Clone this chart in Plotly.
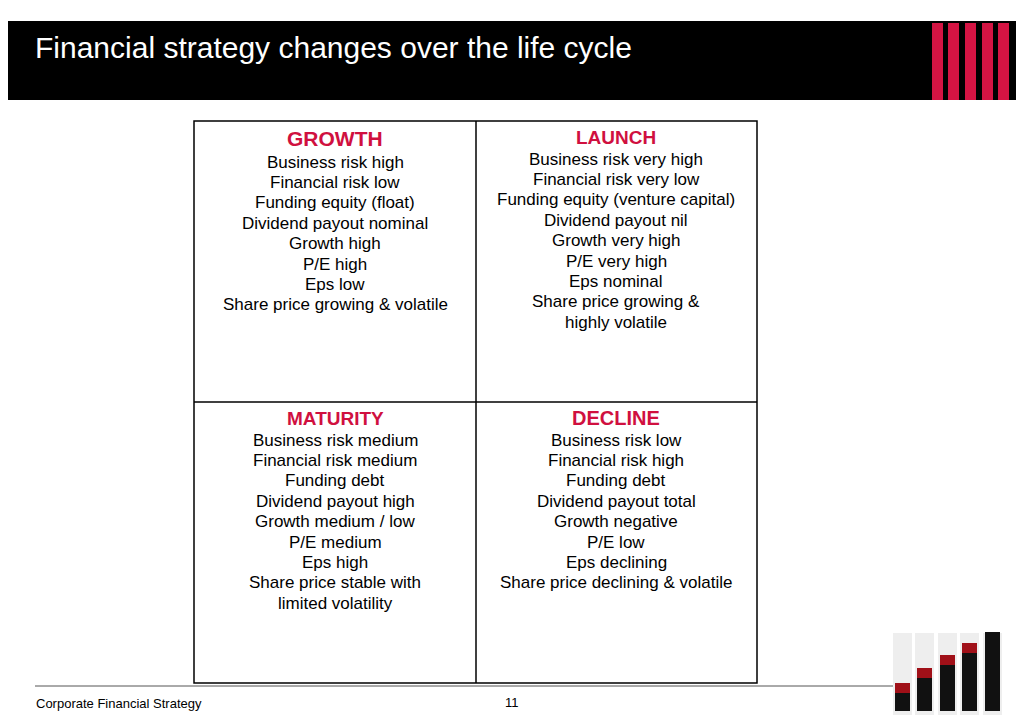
import plotly.graph_objects as go

# the page body has an 8px margin, so the figure is drawn 8px in from the corner
OFF = 8
W, H = 1024 - OFF, 724 - OFF

title = "Financial strategy changes over the life cycle"
footer_left = "Corporate Financial Strategy"
page_no = "11"

# quadrant headings and their lines (top-left, top-right, bottom-left, bottom-right)
headings = ["GROWTH", "LAUNCH", "MATURITY", "DECLINE"]
growth_lines = ["Business risk high", "Financial risk low", "Funding equity (float)",
                "Dividend payout nominal", "Growth high", "P/E high", "Eps low",
                "Share price growing & volatile"]
launch_lines = ["Business risk very high", "Financial risk very low",
                "Funding equity (venture capital)", "Dividend payout nil",
                "Growth very high", "P/E very high", "Eps nominal",
                "Share price growing &", "highly volatile"]
maturity_lines = ["Business risk medium", "Financial risk medium", "Funding debt",
                  "Dividend payout high", "Growth medium / low", "P/E medium", "Eps high",
                  "Share price stable with", "limited volatility"]
decline_lines = ["Business risk low", "Financial risk high", "Funding debt",
                 "Dividend payout total", "Growth negative", "P/E low", "Eps declining",
                 "Share price declining & volatile"]

RED = "#D0103F"
FONT = "Liberation Sans, Arial, sans-serif"


def px(x):
    return (x - OFF) / W


def py(y):
    return 1 - (y - OFF) / H


fig = go.Figure()
shapes = []
ann = []

# header bar
shapes.append(dict(type="rect", xref="paper", yref="paper", x0=0, x1=1,
                   y0=py(100), y1=py(21), fillcolor="black", line_width=0))
for x0 in [932, 948, 965, 982, 998]:
    shapes.append(dict(type="rect", xref="paper", yref="paper", x0=px(x0), x1=px(x0 + 11),
                       y0=py(100), y1=py(23), fillcolor="#D41443", line_width=0))
ann.append(dict(text=title, x=px(33), y=py(47), xref="paper", yref="paper",
                xanchor="left", yanchor="middle", showarrow=False,
                font=dict(family=FONT, size=30, color="white")))

# grid
shapes.append(dict(type="rect", xref="paper", yref="paper", x0=px(194), x1=px(757),
                   y0=py(683), y1=py(121), line=dict(color="black", width=1.5)))
shapes.append(dict(type="line", xref="paper", yref="paper", x0=px(476), x1=px(476),
                   y0=py(683), y1=py(121), line=dict(color="black", width=1.5)))
shapes.append(dict(type="line", xref="paper", yref="paper", x0=px(194), x1=px(757),
                   y0=py(402), y1=py(402), line=dict(color="black", width=1.5)))

quads = [
    (headings[0], growth_lines, 335, 139, 162, 21),
    (headings[1], launch_lines, 616, 137, 159, 19),
    (headings[2], maturity_lines, 335, 418, 440, 19),
    (headings[3], decline_lines, 616, 418, 440, 20),
]
for head, lines, cx, hy, ly, hs in quads:
    ann.append(dict(text="<b>%s</b>" % head, x=px(cx), y=py(hy), xref="paper", yref="paper",
                    showarrow=False, xanchor="center", yanchor="middle",
                    font=dict(family=FONT, size=hs, color=RED)))
    for i, t in enumerate(lines):
        ann.append(dict(text=t, x=px(cx), y=py(ly + i * 20.4), xref="paper", yref="paper",
                        showarrow=False, xanchor="center", yanchor="middle",
                        font=dict(family=FONT, size=17, color="black")))

# footer
shapes.append(dict(type="line", xref="paper", yref="paper", x0=px(35), x1=px(895),
                   y0=py(686), y1=py(686), line=dict(color="#555", width=1)))
ann.append(dict(text=footer_left, x=px(34), y=py(703), xref="paper", yref="paper",
                xanchor="left", yanchor="middle", showarrow=False,
                font=dict(family=FONT, size=13, color="black")))
ann.append(dict(text=page_no, x=px(512), y=py(702), xref="paper", yref="paper",
                showarrow=False, xanchor="center", yanchor="middle",
                font=dict(family=FONT, size=13, color="black")))

# decorative tubes picture
for x0, top in [(893, 683), (915, 668), (938, 655), (960, 643), (983, 632)]:
    shapes.append(dict(type="rect", xref="paper", yref="paper", x0=px(x0), x1=px(x0 + 19),
                       y0=py(715), y1=py(633), fillcolor="#eeeeee", line_width=0))
    shapes.append(dict(type="rect", xref="paper", yref="paper", x0=px(x0 + 2), x1=px(x0 + 17),
                       y0=py(711), y1=py(top + 8), fillcolor="#111111", line_width=0))
    shapes.append(dict(type="rect", xref="paper", yref="paper", x0=px(x0 + 2), x1=px(x0 + 17),
                       y0=py(top + 10), y1=py(top), fillcolor="#A01018" if x0 < 980 else "#111111",
                       line_width=0))

fig.update_layout(width=W, height=H, margin=dict(l=0, r=0, t=0, b=0),
                  paper_bgcolor="white", plot_bgcolor="white",
                  xaxis=dict(visible=False), yaxis=dict(visible=False),
                  shapes=shapes, annotations=ann, showlegend=False)

fig.write_html("out.html")
